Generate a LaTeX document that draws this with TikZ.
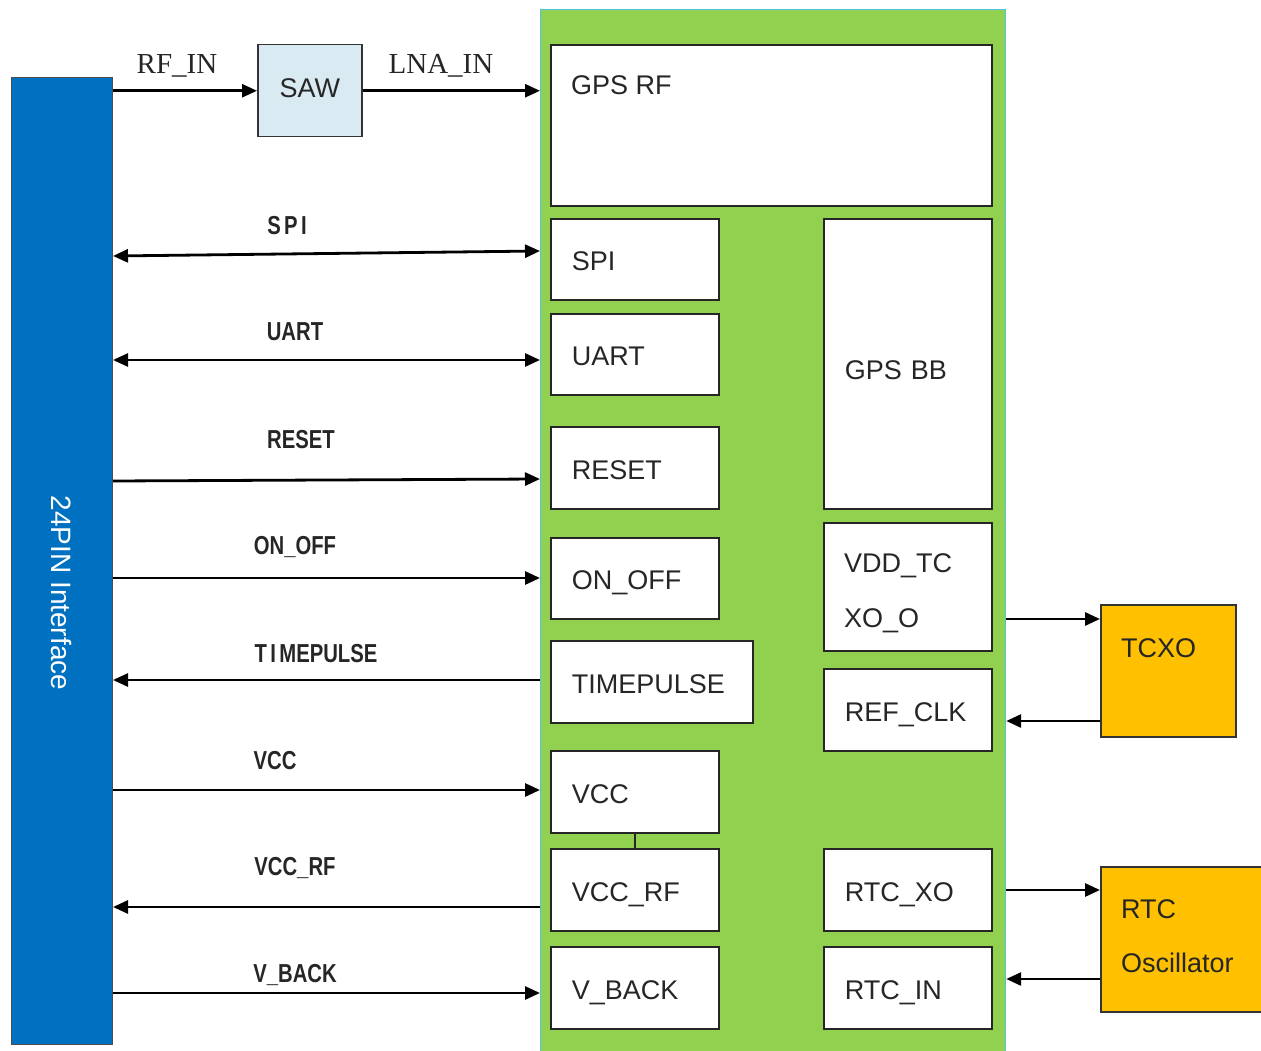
\documentclass[tikz,border=0pt]{standalone}
\usepackage{fontspec}
\setmainfont{Liberation Sans}
\newfontfamily\serifl{Liberation Serif}
\usetikzlibrary{arrows.meta}
\definecolor{barblue}{HTML}{0070C0}
\definecolor{sawblue}{HTML}{DAEAF2}
\definecolor{chipgreen}{HTML}{92D050}
\definecolor{chipedge}{HTML}{4FC3E0}
\definecolor{oscorange}{HTML}{FFC000}
\definecolor{txt}{HTML}{262626}
\newcommand\condensed[1]{\scalebox{0.78}[1]{#1}}
\begin{document}
\begin{tikzpicture}[x=1pt,y=-1pt,
  box/.style={draw=black!85, line width=1.8pt, fill=white, anchor=north west,
    inner xsep=21pt, inner ysep=0pt, align=left, text=txt,
    text height=23pt, text depth=0pt,
    font=\fontsize{27}{30}\selectfont},
  plainbox/.style={line width=1.5pt, anchor=north west, inner sep=0pt},
  txtnode/.style={anchor=west, inner sep=0pt, text=txt, font=\fontsize{27}{30}\selectfont},
  sig/.style={line width=2.8pt, -{Triangle[length=15pt,width=13pt]}},
  bisig/.style={line width=2.8pt, {Triangle[length=15pt,width=13pt]}-{Triangle[length=15pt,width=13pt]}},
  lab/.style={inner sep=0pt, text=txt, font=\bfseries\fontsize{26}{28}\selectfont},
  serlab/.style={inner sep=0pt, text=txt, font=\serifl\fontsize{29}{30}\selectfont}
]
\useasboundingbox (0,0) rectangle (1261,1051);

% left interface bar
\node[plainbox, draw=black!70, line width=1pt, fill=barblue, minimum width=101pt, minimum height=967pt] (bar) at (11,77) {};
\node[rotate=-90, text=white, inner sep=0pt, font=\fontsize{28}{30}\selectfont] (barlab) at (61,593) {24PIN Interface};

% SAW
\node[plainbox, draw=black!80, fill=sawblue, minimum width=104pt, minimum height=92pt, text=txt, text height=13pt, text depth=0pt, font=\fontsize{27}{30}\selectfont] (saw) at (257,44) {SAW};

% chip
\node[plainbox, draw=chipedge, line width=1.2pt, fill=chipgreen, minimum width=465pt, minimum height=1060pt] (chip) at (540,9) {};

% inner boxes
\node[box, minimum width=441pt, minimum height=161pt] (gpsrf) at (550,44) {};
\node[txtnode] (gpsrflab) at (571,85) {GPS RF};
\node[box, minimum width=168pt, minimum height=81pt, text width=126pt] (spi) at (550,218) {SPI};
\node[box, minimum width=168pt, minimum height=81pt, text width=126pt] (uart) at (550,313) {UART};
\node[box, minimum width=168pt, minimum height=82pt, text width=126pt] (reset) at (550,426) {RESET};
\node[box, minimum width=168pt, minimum height=81pt, text width=126pt] (onoff) at (550,537) {ON\_OFF};
\node[box, minimum width=201pt, minimum height=82pt, text width=160pt] (tp) at (550,640) {TIMEPULSE};
\node[box, minimum width=168pt, minimum height=82pt, text width=126pt] (vcc) at (550,750) {VCC};
\node[box, minimum width=168pt, minimum height=82pt, text width=126pt] (vccrf) at (550,848) {VCC\_RF};
\node[box, minimum width=168pt, minimum height=82pt, text width=126pt] (vback) at (550,946) {V\_BACK};

\node[box, minimum width=168pt, minimum height=290pt, text width=126pt, text height=31pt] (bb) at (823,218) {GPS BB};
\node[box, minimum width=168pt, minimum height=128pt, text width=126pt] (vdd) at (823,522) {};
\node[txtnode, align=left, font=\fontsize{27}{55}\selectfont] (vddlab) at (844,593) {VDD\_TC\\XO\_O};
\node[box, minimum width=168pt, minimum height=82pt, text width=126pt] (refclk) at (823,668) {REF\_CLK};
\node[box, minimum width=168pt, minimum height=82pt, text width=126pt] (rtcxo) at (823,848) {RTC\_XO};
\node[box, minimum width=168pt, minimum height=82pt, text width=126pt] (rtcin) at (823,946) {RTC\_IN};

\draw[line width=1.5pt, black!85] (vcc.south) -- (vccrf.north);

% oscillators
\node[plainbox, draw=black!80, fill=oscorange, minimum width=135pt, minimum height=132pt] (tcxo) at (1100,604) {};
\node[txtnode] (tcxolab) at (1121,648) {TCXO};
\node[plainbox, draw=black!80, fill=oscorange, minimum width=175pt, minimum height=145pt] (osc) at (1100,866) {};
\node[txtnode, align=left, font=\fontsize{27}{54}\selectfont] (osclab) at (1121,936) {RTC\\Oscillator};

% RF path
\draw[sig] (bar.east |- saw.west) -- (saw.west);
\draw[sig] (saw.east) -- (chip.west |- saw.east);
\node[serlab] (rfin) at (177,66) {RF\_IN};
\node[serlab] (lnain) at (441,66) {LNA\_IN};

% interface signals
\draw[bisig] (bar.east |- 0,256) -- (chip.west |- 0,251);
\node[lab] (spil) at (287,226) {\condensed{S\,P\,I}};
\draw[bisig] (bar.east |- 0,360) -- (chip.west |- 0,360);
\node[lab] (uartl) at (295,332) {\condensed{UART}};
\draw[sig] (bar.east |- 0,481) -- (chip.west |- 0,479);
\node[lab] (resetl) at (301,440) {\condensed{RESET}};
\draw[sig] (bar.east |- 0,578) -- (chip.west |- 0,578);
\node[lab] (onoffl) at (295,547) {\condensed{ON\_OFF}};
\draw[sig] (chip.west |- 0,680) -- (bar.east |- 0,680);
\node[lab] (tpl) at (316,654) {\condensed{T\,I\,MEPULSE}};
\draw[sig] (bar.east |- 0,790) -- (chip.west |- 0,790);
\node[lab] (vccl) at (275,761) {\condensed{VCC}};
\draw[sig] (chip.west |- 0,907) -- (bar.east |- 0,907);
\node[lab] (vccrfl) at (295,868) {\condensed{VCC\_RF}};
\draw[sig] (bar.east |- 0,993) -- (chip.west |- 0,993);
\node[lab] (vbackl) at (295,975) {\condensed{V\_BACK}};

% oscillator signals
\draw[sig] (chip.east |- 0,619) -- (tcxo.west |- 0,619);
\draw[sig] (tcxo.west |- 0,721) -- (chip.east |- 0,721);
\draw[sig] (chip.east |- 0,890) -- (osc.west |- 0,890);
\draw[sig] (osc.west |- 0,979) -- (chip.east |- 0,979);
\end{tikzpicture}
\end{document}
